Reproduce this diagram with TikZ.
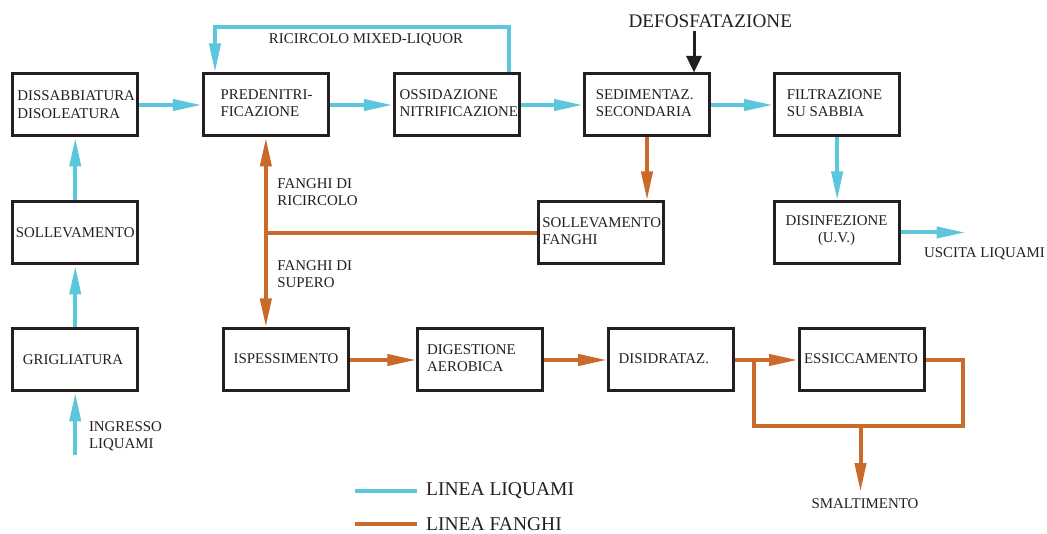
\documentclass[tikz,border=0pt]{standalone}
\usepackage{fontspec}
\setmainfont{Liberation Serif}
\usetikzlibrary{arrows.meta}

\definecolor{liq}{HTML}{5BC6DC}
\definecolor{fan}{HTML}{C96A2B}
\definecolor{ink}{HTML}{231F20}

\tikzset{
  unit/.style={draw=ink, line width=3pt, minimum width=125pt, minimum height=62pt, inner sep=0pt},
  lbl/.style={text=ink, font=\fontsize{14.9}{16.8}\selectfont, inner sep=0pt, align=left},
  lblc/.style={lbl, align=center},
  big/.style={text=ink, font=\fontsize{19.2}{21}\selectfont, inner sep=0pt},
  leg/.style={text=ink, font=\fontsize{19.5}{21}\selectfont, inner sep=0pt, anchor=west},
  liqline/.style={draw=liq, line width=4pt},
  fanline/.style={draw=fan, line width=4pt},
  head/.style={-{Triangle[length=29pt,width=11pt]}},
  liqflow/.style={liqline, head},
  fanflow/.style={fanline, head},
  fanboth/.style={fanline, {Triangle[length=29pt,width=11pt]}-{Triangle[length=29pt,width=11pt]}},
}

\begin{document}
\begin{tikzpicture}[x=1pt, y=-1pt]
\path[use as bounding box] (0,0) rectangle (1047,534);

% process units
\node[unit] (diss)   at (75.25,105)  {};
\node[unit] (preden) at (265.85,105) {};
\node[unit] (ossid)  at (456.85,105) {};
\node[unit] (sedim)  at (647,105)    {};
\node[unit] (filtr)  at (837.15,105) {};
\node[unit] (soll)   at (75.25,233)  {};
\node[unit] (sollf)  at (601.25,233) {};
\node[unit] (disinf) at (837.15,233) {};
\node[unit] (grig)   at (75.25,360)  {};
\node[unit] (isp)    at (286.35,360) {};
\node[unit] (dig)    at (480.35,360) {};
\node[unit] (disid)  at (671.15,360) {};
\node[unit] (ess)    at (862,360)    {};

% unit captions
\node[lbl, anchor=west, font=\fontsize{14.9}{18.3}\selectfont] (t-diss) at (17.2,104.5) {DISSABBIATURA\\DISOLEATURA};
\node[lbl, anchor=west] (t-preden) at (220.4,103.5) {PREDENITRI-\\FICAZIONE};
\node[lbl, anchor=west] (t-ossid)  at (399.4,103)   {OSSIDAZIONE\\NITRIFICAZIONE};
\node[lbl, anchor=west] (t-sedim)  at (595.6,103.5) {SEDIMENTAZ.\\SECONDARIA};
\node[lbl, anchor=west] (t-filtr)  at (786.6,103)   {FILTRAZIONE\\SU SABBIA};
\node[lblc] (t-soll)   at (75.25,232.5) {SOLLEVAMENTO};
\node[lbl, anchor=west] (t-sollf)  at (542.2,231)   {SOLLEVAMENTO\\FANGHI};
\node[lblc] (t-disinf) at (836.5,231)   {DISINFEZIONE\\(U.V.)};
\node[lblc] (t-grig)   at (73,359.5)    {GRIGLIATURA};
\node[lblc] (t-isp)    at (286,358.5)   {ISPESSIMENTO};
\node[lbl, anchor=west] (t-dig)    at (427,358)     {DIGESTIONE\\AEROBICA};
\node[lbl, anchor=west] (t-disid)  at (618.5,359)   {DISIDRATAZ.};
\node[lblc] (t-ess)    at (861,359)     {ESSICCAMENTO};

% free labels
\node[lblc] (l-recirc) at (366,40)  {RICIRCOLO MIXED-LIQUOR};
\node[big]  (l-defo)   at (710.3,21) {DEFOSFATAZIONE};
\node[lbl, anchor=west] (l-fric) at (277.2,192) {FANGHI DI\\RICIRCOLO};
\node[lbl, anchor=west] (l-fsup) at (277.2,274) {FANGHI DI\\SUPERO};
\node[lbl, anchor=west] (l-in)   at (88.8,436)  {INGRESSO\\LIQUAMI};
\node[lblc] (l-out)   at (984.5,253.5) {USCITA LIQUAMI};
\node[lblc] (l-smalt) at (865,504)     {SMALTIMENTO};

% helper points
\coordinate (inlet)  at (75.25,455);
\coordinate (outlet) at (965.5,232.5);
\coordinate (rcup)   at (509,27);
\coordinate (rcdn)   at (215,27);
\coordinate (dtop)   at (694,31);
\coordinate (fj)     at (265.85,233);
\coordinate (lpa)    at (753.5,360);
\coordinate (lpb)    at (753.5,426);
\coordinate (lpc)    at (962.5,426);
\coordinate (lpd)    at (962.5,360);
\coordinate (lpm)    at (860.5,426);
\coordinate (lpe)    at (860.5,492);

% sewage line
\draw[liqflow] (inlet) -- (grig.south);
\draw[liqflow] (grig.north) -- (soll.south);
\draw[liqflow] (soll.north) -- (diss.south);
\draw[liqflow] (diss.east) -- (preden.west);
\draw[liqflow] (preden.east) -- (ossid.west);
\draw[liqflow] (ossid.east) -- (sedim.west);
\draw[liqflow] (sedim.east) -- (filtr.west);
\draw[liqflow] (filtr.south) -- (disinf.north);
\draw[liqflow] (disinf.east |- outlet) -- (outlet);
\draw[liqflow] (rcup |- ossid.north) -- (rcup) -- (rcdn) -- (rcdn |- preden.north);

% phosphorus removal dosing
\draw[draw=ink, line width=3pt, -{Triangle[length=16.5pt,width=15pt]}] (dtop) -- (dtop |- sedim.north);

% sludge line
\draw[fanflow] (sedim.south) -- (sedim.south |- sollf.north);
\draw[fanline] (sollf.west) -- (fj);
\draw[fanboth] (preden.south) -- (preden.south |- isp.north);
\draw[fanflow] (isp.east) -- (dig.west);
\draw[fanflow] (dig.east) -- (disid.west);
\draw[fanflow] (disid.east) -- (ess.west);
\draw[fanline, line join=miter] (ess.east) -- (lpd) -- (lpc) -- (lpb) -- (lpa);
\draw[fanflow] (lpm) -- (lpe);

% legend
\coordinate (lg1a) at (355,490.5);
\coordinate (lg1b) at (417,490.5);
\coordinate (lg2a) at (355,524);
\coordinate (lg2b) at (417,524);
\draw[liqline] (lg1a) -- (lg1b);
\draw[fanline] (lg2a) -- (lg2b);
\node[leg] (leg-liq) at (426,491) {LINEA LIQUAMI};
\node[leg] (leg-fan) at (426,524) {LINEA FANGHI};
\end{tikzpicture}
\end{document}
